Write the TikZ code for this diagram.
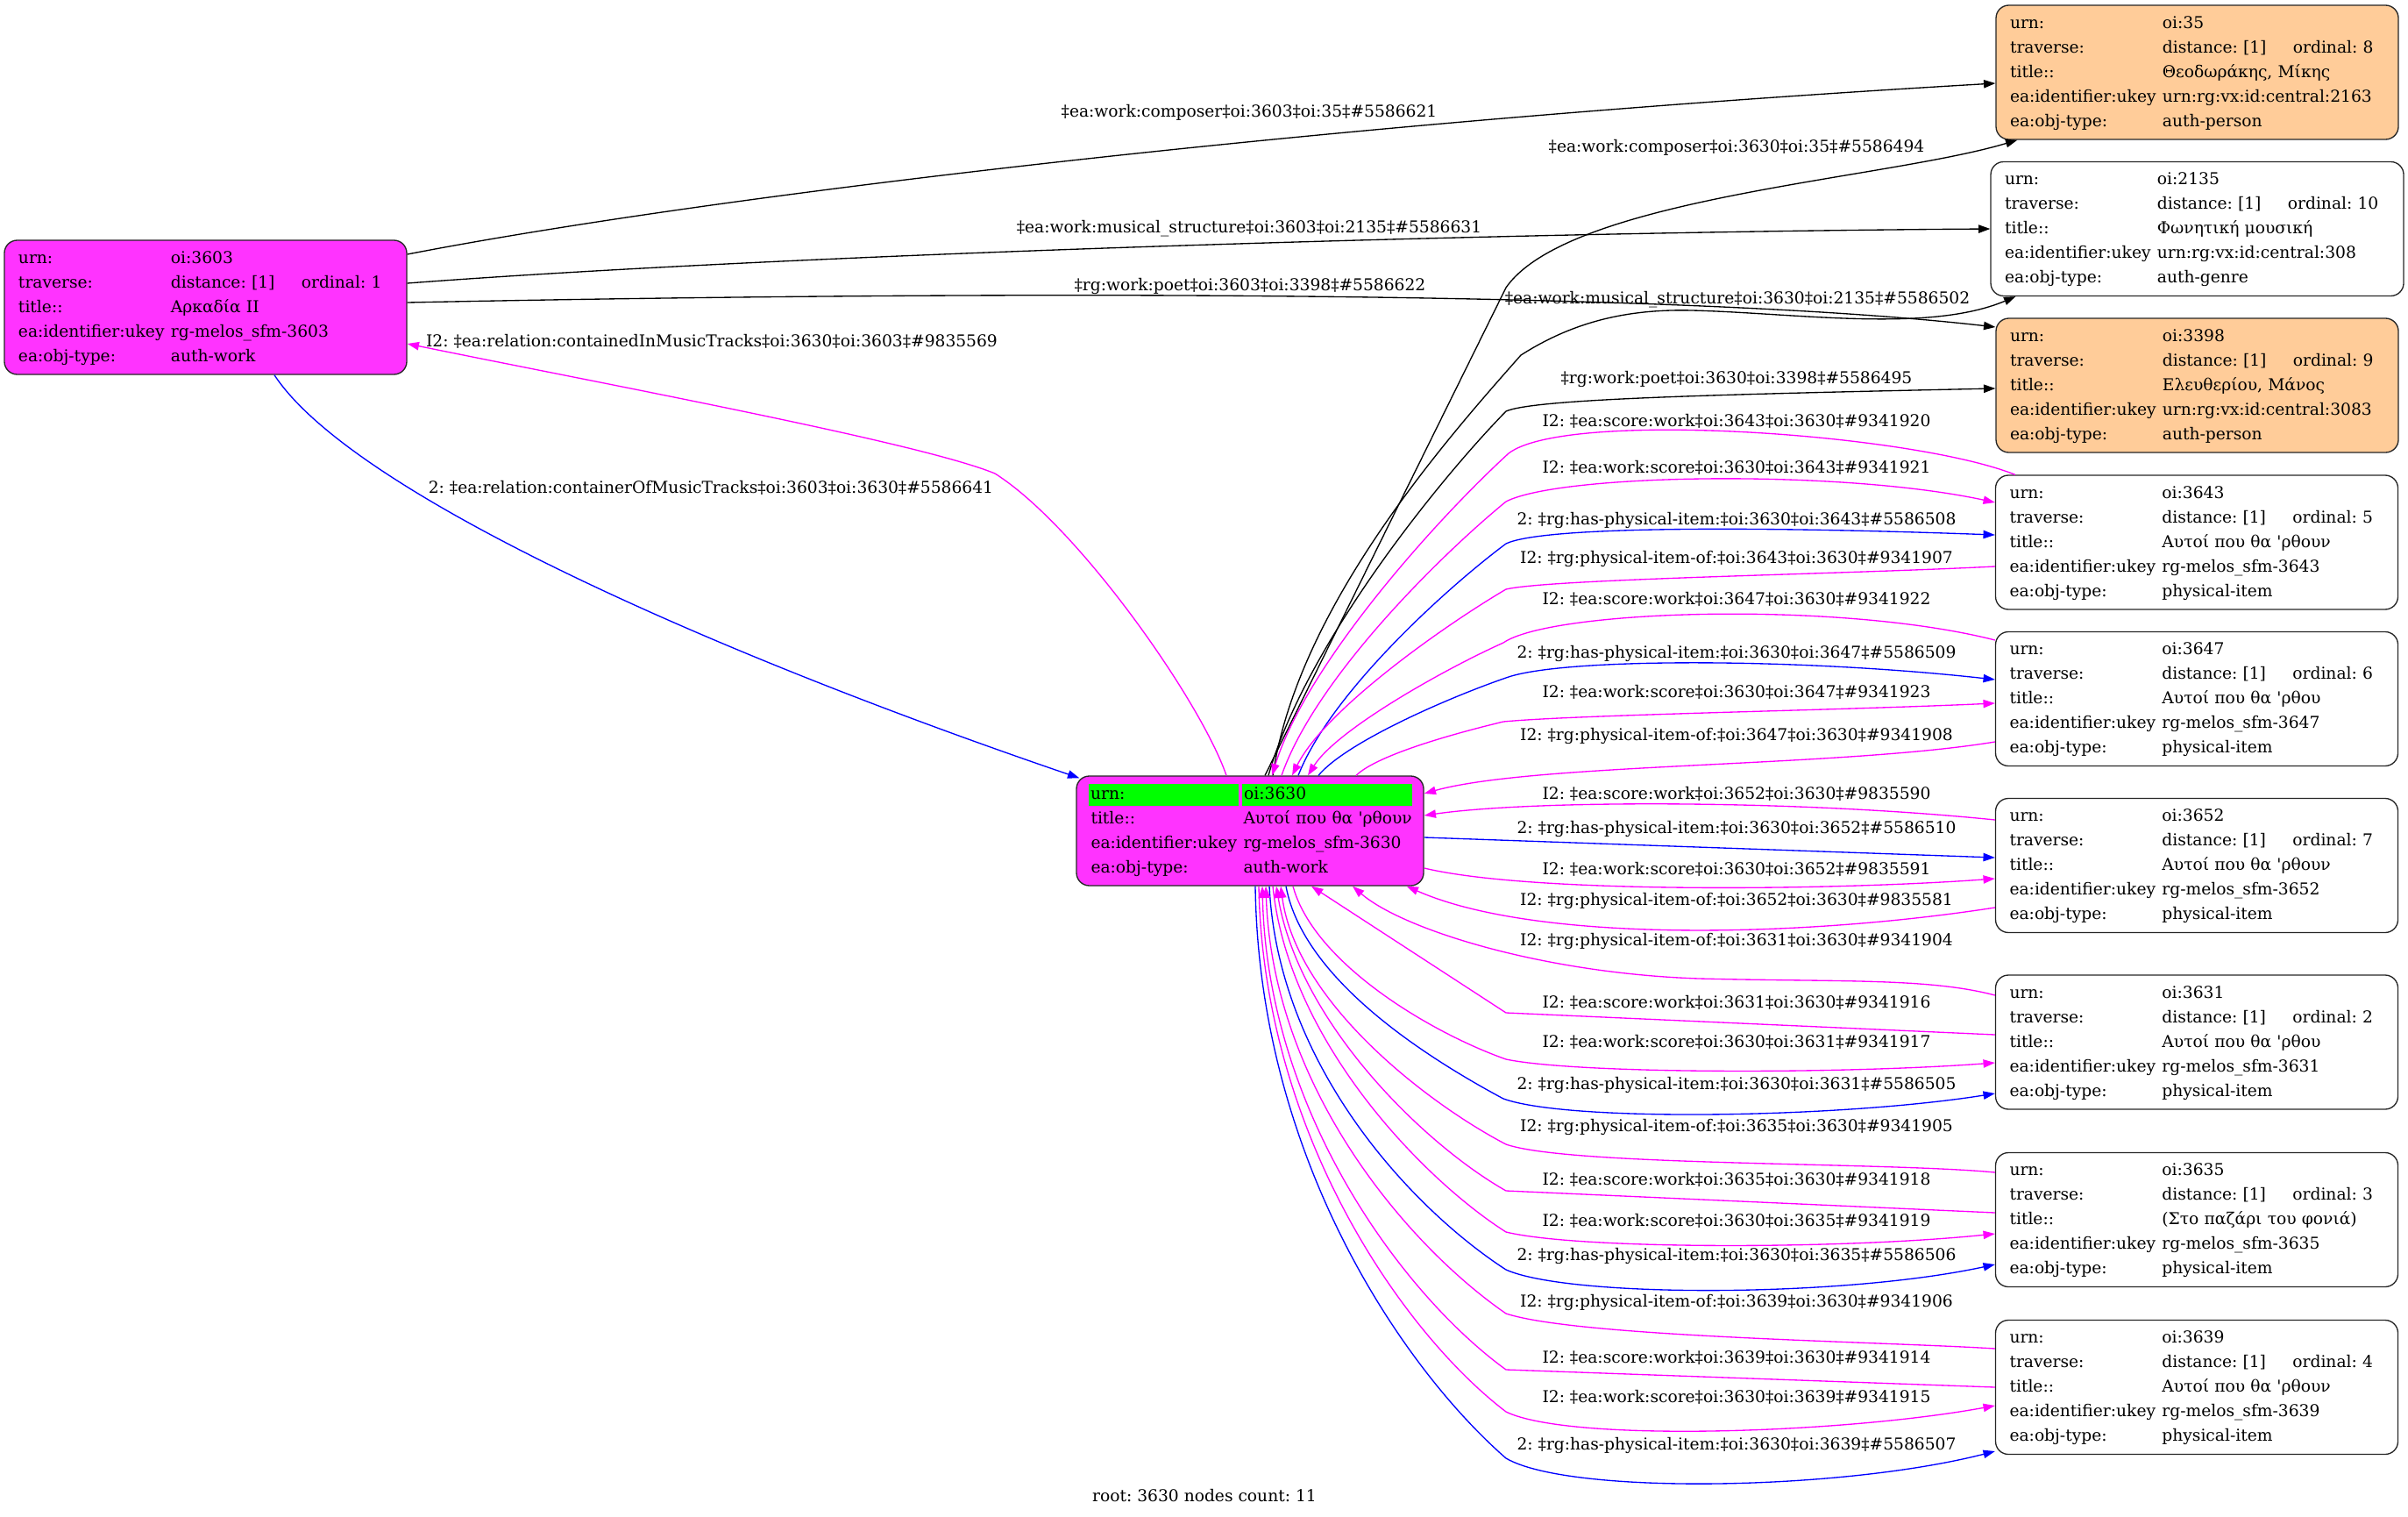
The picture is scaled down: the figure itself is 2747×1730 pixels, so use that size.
\documentclass[tikz,border=0pt]{standalone}
\usepackage{fontspec}
\newfontfamily\dvs{DejaVu Serif}
\usepackage{tikz}
\usetikzlibrary{arrows.meta,calc}

\definecolor{workpink}{RGB}{255,51,255}
\definecolor{personorange}{RGB}{255,204,153}
\definecolor{hlgreen}{RGB}{0,255,0}
\definecolor{edgemag}{RGB}{255,0,255}
\definecolor{edgeblue}{RGB}{0,0,255}

\newcommand{\ordrow}[1]{\makebox[111.75pt][l]{distance: [1]}ordinal: #1}
\newcommand{\hlcell}[2]{{\setlength{\fboxsep}{0pt}\colorbox{hlgreen}{\makebox[#1][l]{\hspace*{2pt}\rule[-5.75pt]{0pt}{18.75pt}#2}}}}
\newcommand{\recbox}[5]{\noindent\begin{tabular}{@{}l@{\hspace{5.5pt}}l@{}}
urn: & #1\\
traverse: & \ordrow{#2}\\
title:: & #3\\
ea:identifier:ukey & #4\\
ea:obj-type: & #5
\end{tabular}}

\begin{document}
\begin{tikzpicture}[x=0.75pt, y=-0.75pt, font=\dvs\fontsize{14}{21}\selectfont\frenchspacing,
  rec/.style={draw=black!85, line width=1pt, rounded corners=11pt, inner xsep=12pt, inner ysep=2pt,
    text width=320.25pt, minimum height=114.75pt, align=left},
  lbl/.style={inner sep=0pt},
  blacklink/.style={draw=black, line width=1pt},
  maglink/.style={draw=edgemag, line width=1pt},
  bluelink/.style={draw=edgeblue, line width=1pt},
  fwd/.style={-{Triangle[length=10pt,width=7pt]}},
  back/.style={{Triangle[length=10pt,width=7pt]}-}]
\useasboundingbox (0,0) rectangle (2747,1730);

% works
\node[rec, fill=workpink] (n3603) at (234.5,350.5) {\recbox{oi:3603}{1}{Αρκαδία II}{rg-melos\_sfm-3603}{auth-work}};
\node[rec, fill=workpink, text width=276.75pt, inner xsep=10.125pt, minimum height=93.75pt] (n3630) at (1426,947.5) {\noindent\begin{tabular}{@{}l@{\hspace{3pt}}l@{}}
\hlcell{128.25pt}{urn:} & \hlcell{145.5pt}{oi:3630}\\
\hspace*{2.25pt}title:: & \hspace*{1.5pt}Αυτοί που θα 'ρθουν\\
\hspace*{2.25pt}ea:identifier:ukey & \hspace*{1.5pt}rg-melos\_sfm-3630\\
\hspace*{2.25pt}ea:obj-type: & \hspace*{1.5pt}auth-work
\end{tabular}};

% persons and genre
\node[rec, fill=personorange] (n35) at (2506.5,82.5) {\recbox{oi:35}{8}{Θεοδωράκης, Μίκης}{urn:rg:vx:id:central:2163}{auth-person}};
\node[rec, text width=329.25pt] (n2135) at (2506.5,261) {\recbox{oi:2135}{10}{Φωνητική μουσική}{urn:rg:vx:id:central:308}{auth-genre}};
\node[rec, fill=personorange] (n3398) at (2506.5,439.5) {\recbox{oi:3398}{9}{Ελευθερίου, Μάνος}{urn:rg:vx:id:central:3083}{auth-person}};

% physical items
\node[rec] (n3643) at (2506,618.5) {\recbox{oi:3643}{5}{Αυτοί που θα 'ρθουν}{rg-melos\_sfm-3643}{physical-item}};
\node[rec] (n3647) at (2506,797) {\recbox{oi:3647}{6}{Αυτοί που θα 'ρθου}{rg-melos\_sfm-3647}{physical-item}};
\node[rec] (n3652) at (2506,987) {\recbox{oi:3652}{7}{Αυτοί που θα 'ρθουν}{rg-melos\_sfm-3652}{physical-item}};
\node[rec] (n3631) at (2506,1188.5) {\recbox{oi:3631}{2}{Αυτοί που θα 'ρθου}{rg-melos\_sfm-3631}{physical-item}};
\node[rec] (n3635) at (2506,1391) {\recbox{oi:3635}{3}{(Στο παζάρι του φονιά)}{rg-melos\_sfm-3635}{physical-item}};
\node[rec] (n3639) at (2506,1582) {\recbox{oi:3639}{4}{Αυτοί που θα 'ρθουν}{rg-melos\_sfm-3639}{physical-item}};

% links of oi:3603
\draw[blacklink, fwd] ($(n3603.east)+(0,-60.5)$) .. controls (800,225) and (1500,140) .. ($(n35.west)+(0,12.5)$);
\draw[blacklink, fwd] ($(n3603.east)+(0,-27.5)$) .. controls (900,290) and (1700,265) .. (n2135.west);
\draw[blacklink, fwd] ($(n3603.east)+(0,-5.5)$) .. controls (1100,332) and (1900,330) .. ($(n3398.west)+(0,-66.5)$);
\draw[bluelink, fwd] ($(n3603.south)+(78.5,0)$) .. controls (400,560) and (800,740) .. ($(n3630.north west)+(4,3)$);
\draw[maglink, back] ($(n3603.east)+(0,41.5)$) .. controls (700,440) and (1050,505) .. (1135,540) .. controls (1230,600) and (1370,800) .. ($(n3630.north)+(-27,0)$);
\node[lbl] (l1) at (1425,128) {‡ea:work:composer‡oi:3603‡oi:35‡\#5586621};
\node[lbl] (l2) at (1425,261) {‡ea:work:musical\_structure‡oi:3603‡oi:2135‡\#5586631};
\node[lbl] (l3) at (1426,326) {‡rg:work:poet‡oi:3603‡oi:3398‡\#5586622};
\node[lbl] (l4) at (811,556) {2: ‡ea:relation:containerOfMusicTracks‡oi:3603‡oi:3630‡\#5586641};
\node[lbl] (l5) at (812,389) {I2: ‡ea:relation:containedInMusicTracks‡oi:3630‡oi:3603‡\#9835569};

% links of oi:3630, upper side
\draw[blacklink, fwd] ($(n3630.north)+(17,0)$) -- (1718,328) .. controls (1790,225) and (2150,205) .. ($(n35.south west)+(25,0)$);
\draw[blacklink, fwd] ($(n3630.north)+(26,0)$) .. controls (1480,693) and (1650,501) .. (1735,405) .. controls (1790,370) and (1850,352) .. (1930,354) .. controls (2050,357) and (2200,380) .. ($(n2135.south west)+(29,0)$);
\draw[blacklink, fwd] ($(n3630.north)+(21,0)$) .. controls (1488,739) and (1637,552) .. (1718,469) .. controls (1750,455) and (1950,450) .. ($(n3398.west)+(0,3.5)$);
\draw[maglink, back] ($(n3630.north)+(25,0)$) .. controls (1491,756) and (1640,591) .. (1721,517) .. controls (1786,467) and (2180,494) .. ($(n3643.north west)+(23,0)$);
\draw[maglink, fwd] ($(n3630.north)+(36,0)$) .. controls (1500,775) and (1641,635) .. (1718,572) .. controls (1780,540) and (2100,535) .. ($(n3643.west)+(0,-45.5)$);
\draw[bluelink, fwd] ($(n3630.north)+(55,0)$) .. controls (1517,792) and (1647,673) .. (1718,620) .. controls (1760,600) and (2000,600) .. ($(n3643.west)+(0,-8.5)$);
\draw[maglink, back] ($(n3630.north)+(48,0)$) .. controls (1511,810) and (1645,715) .. (1718,672) .. controls (1770,660) and (2100,655) .. ($(n3643.west)+(0,27.5)$);
\draw[maglink, back] ($(n3630.north)+(66,0)$) .. controls (1525,832) and (1648,763) .. (1715,733) .. controls (1770,695) and (2100,685) .. ($(n3647.west)+(0,-67)$);
\draw[bluelink, fwd] ($(n3630.north)+(78,0)$) .. controls (1536,846) and (1654,795) .. (1718,773) .. controls (1780,750) and (2050,750) .. ($(n3647.west)+(0,-22)$);
\draw[maglink, fwd] ($(n3630.north)+(121,0)$) .. controls (1572,860) and (1665,835) .. (1715,823) .. controls (1800,815) and (2100,810) .. ($(n3647.west)+(0,5)$);
\node[lbl] (l6) at (1981,168) {‡ea:work:composer‡oi:3630‡oi:35‡\#5586494};
\node[lbl] (l7) at (1982,342) {‡ea:work:musical\_structure‡oi:3630‡oi:2135‡\#5586502};
\node[lbl] (l8) at (1981,432) {‡rg:work:poet‡oi:3630‡oi:3398‡\#5586495};
\node[lbl] (l9) at (1981,480) {I2: ‡ea:score:work‡oi:3643‡oi:3630‡\#9341920};
\node[lbl] (l10) at (1981,533) {I2: ‡ea:work:score‡oi:3630‡oi:3643‡\#9341921};
\node[lbl] (l11) at (1981,593) {2: ‡rg:has-physical-item:‡oi:3630‡oi:3643‡\#5586508};
\node[lbl] (l12) at (1981,637) {I2: ‡rg:physical-item-of:‡oi:3643‡oi:3630‡\#9341907};
\node[lbl] (l13) at (1981,683) {I2: ‡ea:score:work‡oi:3647‡oi:3630‡\#9341922};
\node[lbl] (l14) at (1981,745) {2: ‡rg:has-physical-item:‡oi:3630‡oi:3647‡\#5586509};
\node[lbl] (l15) at (1981,789) {I2: ‡ea:work:score‡oi:3630‡oi:3647‡\#9341923};

% links of oi:3630, right side
\draw[maglink, back] ($(n3630.east)+(0,-42.5)$) .. controls (1750,870) and (2100,875) .. ($(n3647.west)+(0,49)$);
\draw[maglink, back] ($(n3630.east)+(0,-17.5)$) .. controls (1750,912) and (2050,912) .. ($(n3652.west)+(0,-52)$);
\draw[bluelink, fwd] ($(n3630.east)+(0,7.5)$) -- ($(n3652.west)+(0,-9)$);
\draw[maglink, fwd] ($(n3630.east)+(0,42.5)$) .. controls (1750,1020) and (2100,1015) .. ($(n3652.west)+(0,15)$);
\draw[maglink, back] ($(n3630.south east)+(-20,0)$) .. controls (1750,1075) and (2050,1070) .. ($(n3652.west)+(0,48)$);
\node[lbl] (l16) at (1981,839) {I2: ‡rg:physical-item-of:‡oi:3647‡oi:3630‡\#9341908};
\node[lbl] (l17) at (1981,905) {I2: ‡ea:score:work‡oi:3652‡oi:3630‡\#9835590};
\node[lbl] (l18) at (1981,945) {2: ‡rg:has-physical-item:‡oi:3630‡oi:3652‡\#5586510};
\node[lbl] (l19) at (1981,991) {I2: ‡ea:work:score‡oi:3630‡oi:3652‡\#9835591};
\node[lbl] (l20) at (1981,1027) {I2: ‡rg:physical-item-of:‡oi:3652‡oi:3630‡\#9835581};

% links of oi:3630, lower side
\draw[maglink, back] ($(n3630.south)+(117,0)$) .. controls (1600,1060) and (1760,1110) .. (1938,1116) .. controls (2100,1120) and (2200,1115) .. ($(n3631.west)+(0,-53.5)$);
\draw[maglink, back] ($(n3630.south)+(70,0)$) -- (1718,1155) -- ($(n3631.west)+(0,-8.5)$);
\draw[maglink, fwd] ($(n3630.south)+(49,0)$) .. controls (1499,1099) and (1633,1178) .. (1718,1208) .. controls (1800,1225) and (2100,1225) .. ($(n3631.west)+(0,23.5)$);
\draw[bluelink, fwd] ($(n3630.south)+(41,0)$) .. controls (1487,1119) and (1633,1209) .. (1715,1253) .. controls (1790,1280) and (2100,1275) .. ($(n3631.west)+(0,58.5)$);
\draw[maglink, back] ($(n3630.south)+(35,0)$) .. controls (1479,1143) and (1628,1258) .. (1718,1305) .. controls (1790,1330) and (2150,1325) .. ($(n3635.west)+(0,-54)$);
\draw[maglink, back] ($(n3630.south)+(30,0)$) .. controls (1482,1167) and (1626,1306) .. (1718,1358) -- ($(n3635.west)+(0,-8)$);
\draw[maglink, fwd] ($(n3630.south)+(26,0)$) .. controls (1470,1188) and (1625,1346) .. (1718,1405) .. controls (1800,1425) and (2100,1425) .. ($(n3635.west)+(0,16)$);
\draw[bluelink, fwd] ($(n3630.south)+(22,0)$) .. controls (1458,1215) and (1610,1378) .. (1718,1448) .. controls (1790,1480) and (2100,1480) .. ($(n3635.west)+(0,51)$);
\draw[maglink, back] ($(n3630.south)+(18,0)$) .. controls (1452,1240) and (1605,1420) .. (1718,1498) .. controls (1800,1525) and (2150,1530) .. ($(n3639.west)+(0,-44)$);
\draw[maglink, back] ($(n3630.south)+(14,0)$) .. controls (1446,1270) and (1602,1478) .. (1718,1562) -- (n3639.west);
\draw[maglink, fwd] ($(n3630.south)+(10,0)$) .. controls (1441,1292) and (1600,1520) .. (1718,1610) .. controls (1790,1645) and (2100,1635) .. ($(n3639.west)+(0,21)$);
\draw[bluelink, fwd] ($(n3630.south)+(6,0)$) .. controls (1436,1320) and (1600,1560) .. (1718,1663) .. controls (1790,1705) and (2100,1700) .. ($(n3639.west)+(0,73)$);
\node[lbl] (l21) at (1981,1073) {I2: ‡rg:physical-item-of:‡oi:3631‡oi:3630‡\#9341904};
\node[lbl] (l22) at (1981,1143) {I2: ‡ea:score:work‡oi:3631‡oi:3630‡\#9341916};
\node[lbl] (l23) at (1981,1188) {I2: ‡ea:work:score‡oi:3630‡oi:3631‡\#9341917};
\node[lbl] (l24) at (1981,1237) {2: ‡rg:has-physical-item:‡oi:3630‡oi:3631‡\#5586505};
\node[lbl] (l25) at (1981,1285) {I2: ‡rg:physical-item-of:‡oi:3635‡oi:3630‡\#9341905};
\node[lbl] (l26) at (1981,1345) {I2: ‡ea:score:work‡oi:3635‡oi:3630‡\#9341918};
\node[lbl] (l27) at (1981,1392) {I2: ‡ea:work:score‡oi:3630‡oi:3635‡\#9341919};
\node[lbl] (l28) at (1981,1432) {2: ‡rg:has-physical-item:‡oi:3630‡oi:3635‡\#5586506};
\node[lbl] (l29) at (1981,1485) {I2: ‡rg:physical-item-of:‡oi:3639‡oi:3630‡\#9341906};
\node[lbl] (l30) at (1981,1548) {I2: ‡ea:score:work‡oi:3639‡oi:3630‡\#9341914};
\node[lbl] (l31) at (1981,1593) {I2: ‡ea:work:score‡oi:3630‡oi:3639‡\#9341915};
\node[lbl] (l32) at (1981,1648) {2: ‡rg:has-physical-item:‡oi:3630‡oi:3639‡\#5586507};

% footer
\node[lbl] (rootinfo) at (1374,1706) {root: 3630 nodes count: 11};
\end{tikzpicture}
\end{document}
